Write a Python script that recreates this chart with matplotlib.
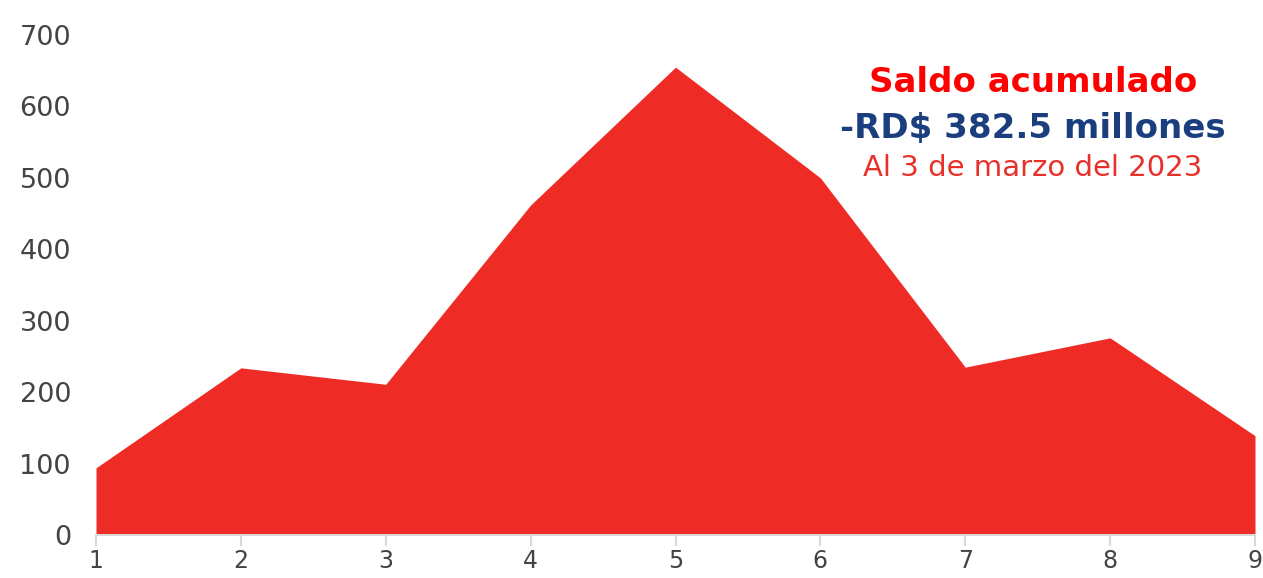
import matplotlib
matplotlib.use("Agg")
import matplotlib.pyplot as plt

categories = [1, 2, 3, 4, 5, 6, 7, 8, 9]
values = [94, 234, 211, 462, 655, 500, 235, 276, 139]
y_ticks = [0, 100, 200, 300, 400, 500, 600, 700]

FONT = 'DejaVu Sans'
plt.rcParams['font.family'] = 'sans-serif'
plt.rcParams['font.sans-serif'] = [FONT]

fig = plt.figure(figsize=(12.63, 5.78), dpi=100)
ax = fig.add_axes([96/1263, 43/578, (1255-96)/1263, (535-35)/578])
ax.fill_between(categories, values, 0, color='#EE2B24', linewidth=0)
ax.set_xlim(1, 9)
ax.set_ylim(0, 700)
ax.set_yticks(y_ticks)
ax.set_yticklabels([str(v) for v in y_ticks], fontfamily=FONT)
ax.set_xticks(categories)
ax.set_xticklabels([str(c) for c in categories], fontfamily=FONT)
for s in ['top', 'right', 'left']:
    ax.spines[s].set_visible(False)
ax.spines['bottom'].set_color('#d9d9d9')
ax.spines['bottom'].set_linewidth(1.5)
ax.tick_params(axis='y', length=0, pad=18, labelsize=19.5, labelcolor='#444444')
ax.tick_params(axis='x', length=8, width=1.5, color='#d9d9d9', pad=2,
               labelsize=17, labelcolor='#444444', direction='out')

fig.text(1033/1263, 1 - 82/578, 'Saldo acumulado', color='#FF0000', fontsize=24.5,
         fontweight='bold', ha='center', va='center', fontfamily=FONT)
fig.text(1033/1263, 1 - 128/578, '-RD$ 382.5 millones', color='#1B3F7E', fontsize=24.5,
         fontweight='bold', ha='center', va='center', fontfamily=FONT)
fig.text(1033/1263, 1 - 168/578, 'Al 3 de marzo del 2023', color='#E8302A', fontsize=21,
         ha='center', va='center', fontfamily=FONT)

fig.savefig('out.png', dpi=100)
